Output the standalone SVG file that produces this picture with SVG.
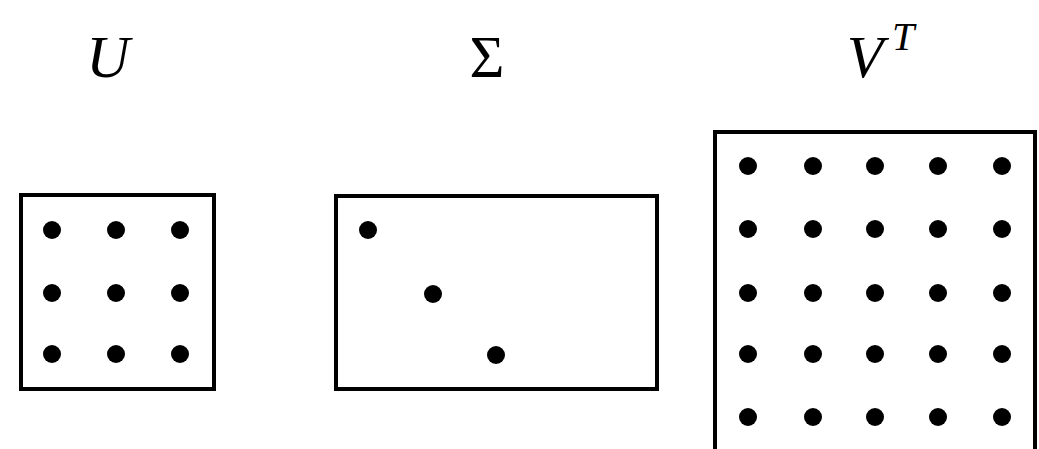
<svg xmlns="http://www.w3.org/2000/svg" width="1039" height="449" viewBox="0 0 1039 449">
<style>
.box{fill:#fff;stroke:#000;stroke-width:4}
.dot{fill:#000}
.lbl{font-family:"Liberation Serif","DejaVu Serif",serif;font-style:italic;font-size:60px;fill:#000}
.up{font-family:"Liberation Serif","DejaVu Serif",serif;font-size:60px;fill:#000}
.sup{font-family:"Liberation Serif","DejaVu Serif",serif;font-style:italic;font-size:40px;fill:#000}
</style>
<rect width="1039" height="449" fill="#fff"/>
<g id="U">
<text class="lbl" x="108" y="77" text-anchor="middle">U</text>
<rect class="box" x="21" y="195" width="193" height="194"/>
<g class="dot">
<circle cx="52" cy="230" r="9"/><circle cx="116" cy="230" r="9"/><circle cx="180" cy="230" r="9"/>
<circle cx="52" cy="293" r="9"/><circle cx="116" cy="293" r="9"/><circle cx="180" cy="293" r="9"/>
<circle cx="52" cy="354" r="9"/><circle cx="116" cy="354" r="9"/><circle cx="180" cy="354" r="9"/>
</g>
</g>
<g id="Sigma">
<text class="up" x="487" y="77" text-anchor="middle">Σ</text>
<rect class="box" x="336" y="196" width="321" height="193"/>
<g class="dot">
<circle cx="368" cy="230" r="9"/><circle cx="433" cy="294" r="9"/><circle cx="496" cy="355" r="9"/>
</g>
</g>
<g id="VT">
<text class="lbl" x="865" y="77" text-anchor="middle">V</text>
<text class="sup" x="903" y="50" text-anchor="middle">T</text>
<rect class="box" x="715" y="132" width="320" height="330"/>
<g class="dot">
<circle cx="748" cy="166" r="9"/><circle cx="813" cy="166" r="9"/><circle cx="875" cy="166" r="9"/><circle cx="938" cy="166" r="9"/><circle cx="1002" cy="166" r="9"/>
<circle cx="748" cy="229" r="9"/><circle cx="813" cy="229" r="9"/><circle cx="875" cy="229" r="9"/><circle cx="938" cy="229" r="9"/><circle cx="1002" cy="229" r="9"/>
<circle cx="748" cy="293" r="9"/><circle cx="813" cy="293" r="9"/><circle cx="875" cy="293" r="9"/><circle cx="938" cy="293" r="9"/><circle cx="1002" cy="293" r="9"/>
<circle cx="748" cy="354" r="9"/><circle cx="813" cy="354" r="9"/><circle cx="875" cy="354" r="9"/><circle cx="938" cy="354" r="9"/><circle cx="1002" cy="354" r="9"/>
<circle cx="748" cy="417" r="9"/><circle cx="813" cy="417" r="9"/><circle cx="875" cy="417" r="9"/><circle cx="938" cy="417" r="9"/><circle cx="1002" cy="417" r="9"/>
</g>
</g>
<g id="connectors"/>
</svg>
